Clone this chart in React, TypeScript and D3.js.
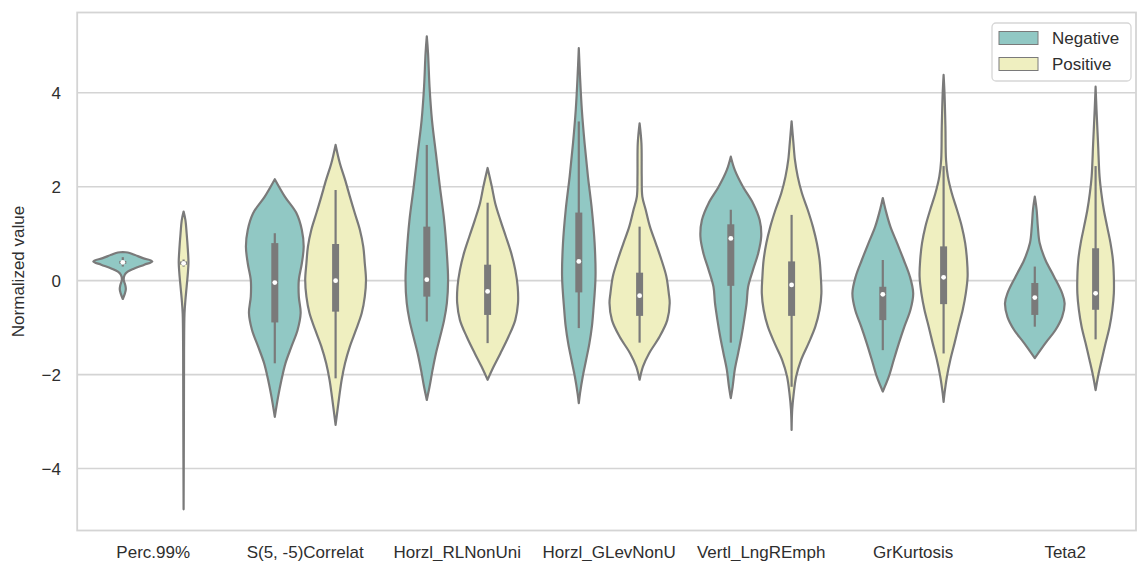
import React from "react";
import * as d3 from "d3";

// categories on the x axis and the two hue groups
const categories = [
  "Perc.99%",
  "S(5, -5)Correlat",
  "Horzl_RLNonUni",
  "Horzl_GLevNonU",
  "Vertl_LngREmph",
  "GrKurtosis",
  "Teta2",
];
const hues = ["Negative", "Positive"];
const yTicks = [-4, -2, 0, 2, 4];

// violin outlines: [value, relative half width]
const negativeProfiles = [
  [[0.61, 0], [0.6, 0.16], [0.55, 0.38], [0.48, 0.66], [0.41, 0.97], [0.34, 0.71], [0.26, 0.38], [0.19, 0.16], [0.12, 0.06], [0.02, 0.03], [-0.09, 0.08], [-0.18, 0.1], [-0.27, 0.07], [-0.39, 0]],
  [[2.16, 0], [1.79, 0.33], [1.44, 0.71], [1.08, 0.89], [0.725, 0.95], [0.37, 0.89], [0.016, 0.79], [-0.34, 0.79], [-0.69, 0.85], [-1.05, 0.75], [-1.4, 0.55], [-1.76, 0.35], [-2.11, 0.22], [-2.47, 0.11], [-2.9, 0]],
  [[5.2, 0], [4.85, 0.04], [4.13, 0.09], [3.42, 0.17], [2.71, 0.3], [2.0, 0.43], [1.29, 0.57], [0.58, 0.66], [0.016, 0.7], [-0.48, 0.66], [-0.84, 0.57], [-1.19, 0.44], [-1.55, 0.3], [-1.9, 0.19], [-2.26, 0.09], [-2.54, 0]],
  [[4.95, 0], [4.35, 0.04], [3.64, 0.1], [2.93, 0.19], [2.22, 0.3], [1.51, 0.43], [0.8, 0.52], [0.09, 0.55], [-0.62, 0.48], [-0.98, 0.43], [-1.33, 0.35], [-1.69, 0.24], [-2.04, 0.13], [-2.4, 0.04], [-2.61, 0]],
  [[2.64, 0], [2.36, 0.13], [2.0, 0.4], [1.65, 0.73], [1.29, 0.95], [0.94, 1.0], [0.58, 0.9], [0.23, 0.73], [-0.13, 0.57], [-0.48, 0.52], [-0.84, 0.44], [-1.19, 0.35], [-1.55, 0.24], [-1.9, 0.13], [-2.26, 0.06], [-2.5, 0]],
  [[1.76, 0], [1.51, 0.09], [1.15, 0.25], [0.8, 0.47], [0.44, 0.69], [0.09, 0.89], [-0.27, 1.0], [-0.62, 0.91], [-0.98, 0.71], [-1.33, 0.53], [-1.69, 0.36], [-2.04, 0.2], [-2.36, 0]],
  [[1.79, 0], [1.51, 0.06], [1.15, 0.1], [0.8, 0.16], [0.44, 0.35], [0.09, 0.63], [-0.27, 0.9], [-0.48, 0.98], [-0.77, 0.9], [-1.05, 0.68], [-1.33, 0.35], [-1.65, 0]],
];

const positiveProfiles = [
  [[1.47, 0], [1.29, 0.06], [1.01, 0.1], [0.66, 0.14], [0.39, 0.16], [0.16, 0.14], [-0.13, 0.1], [-0.41, 0.06], [-0.7, 0.03], [-1.5, 0.015], [-3.0, 0.01], [-4.87, 0]],
  [[2.89, 0], [2.5, 0.14], [2.15, 0.31], [1.79, 0.47], [1.44, 0.63], [1.08, 0.8], [0.725, 0.91], [0.37, 0.96], [0.016, 1.0], [-0.34, 0.96], [-0.69, 0.86], [-1.05, 0.67], [-1.4, 0.47], [-1.76, 0.31], [-2.11, 0.2], [-2.47, 0.12], [-3.07, 0]],
  [[2.4, 0], [2.0, 0.14], [1.65, 0.25], [1.29, 0.42], [0.94, 0.6], [0.58, 0.78], [0.23, 0.91], [-0.13, 0.99], [-0.48, 1.0], [-0.84, 0.91], [-1.19, 0.69], [-1.55, 0.42], [-1.83, 0.2], [-2.11, 0]],
  [[3.35, 0], [2.93, 0.06], [2.22, 0.07], [1.79, 0.09], [1.51, 0.2], [1.15, 0.34], [0.8, 0.53], [0.44, 0.72], [0.09, 0.88], [-0.27, 0.96], [-0.48, 0.99], [-0.84, 0.91], [-1.19, 0.66], [-1.55, 0.31], [-1.83, 0.11], [-2.11, 0]],
  [[3.39, 0], [2.93, 0.06], [2.57, 0.11], [2.22, 0.2], [1.86, 0.34], [1.51, 0.53], [1.15, 0.7], [0.8, 0.83], [0.44, 0.92], [0.09, 0.96], [-0.27, 0.98], [-0.62, 0.92], [-0.98, 0.78], [-1.33, 0.56], [-1.69, 0.31], [-2.04, 0.15], [-2.4, 0.07], [-2.75, 0.02], [-3.18, 0]],
  [[4.38, 0], [3.99, 0.03], [3.28, 0.06], [2.57, 0.08], [2.22, 0.14], [1.86, 0.27], [1.51, 0.44], [1.15, 0.6], [0.8, 0.71], [0.44, 0.77], [0.09, 0.79], [-0.27, 0.73], [-0.62, 0.63], [-0.98, 0.49], [-1.33, 0.36], [-1.69, 0.22], [-2.04, 0.11], [-2.4, 0.03], [-2.58, 0]],
  [[4.13, 0], [3.64, 0.03], [2.93, 0.08], [2.22, 0.13], [1.86, 0.19], [1.51, 0.27], [1.15, 0.38], [0.8, 0.49], [0.44, 0.57], [0.09, 0.6], [-0.27, 0.6], [-0.62, 0.55], [-0.98, 0.46], [-1.33, 0.33], [-1.69, 0.2], [-2.04, 0.08], [-2.33, 0]],
];

// inner box: [whisker low, q1, median, q3, whisker high]
const negativeBoxes = [
  [0.3, 0.36, 0.39, 0.42, 0.5],
  [-1.76, -0.89, -0.04, 0.8, 1.01],
  [-0.87, -0.34, 0.02, 1.15, 2.89],
  [-1.01, -0.25, 0.41, 1.45, 3.39],
  [-1.32, -0.11, 0.9, 1.2, 1.51],
  [-1.48, -0.84, -0.29, -0.13, 0.44],
  [-0.98, -0.73, -0.36, -0.05, 0.3],
];
const positiveBoxes = [
  [0.3, 0.34, 0.37, 0.41, 0.45],
  [-2.08, -0.66, 0.0, 0.78, 1.93],
  [-1.33, -0.73, -0.23, 0.34, 1.66],
  [-1.32, -0.75, -0.32, 0.17, 1.15],
  [-2.26, -0.75, -0.09, 0.41, 1.4],
  [-1.55, -0.5, 0.07, 0.73, 2.44],
  [-1.25, -0.62, -0.27, 0.69, 2.44],
];

const colors = ["#91c8c4", "#efefc0"];
const lineGray = "#7a7a7a";
const gridGray = "#d4d4d4";
const font = "'Liberation Sans', Arial, sans-serif";

const App = () => {
  const width = 1138;
  const height = 561;
  const top = 12.5;
  const bottom = 530.5;
  const left = 77.2;
  const frameRight = 1136;

  const x = d3.scaleBand().domain(categories).range([left, 1141.2]);
  const hueX = d3
    .scaleBand()
    .domain(hues)
    .range([x.bandwidth() * 0.1, x.bandwidth() * 0.9]);
  const y = d3.scaleLinear().domain([-5.32, 5.71]).range([bottom, top]);
  const w = d3.scaleLinear().domain([0, 1]).range([0, hueX.bandwidth() / 2]);

  const profiles = [negativeProfiles, positiveProfiles];
  const boxes = [negativeBoxes, positiveBoxes];

  const renderViolin = (cat, ci, hi) => {
    const cx = x(cat) + hueX(hues[hi]) + hueX.bandwidth() / 2;
    const area = d3
      .area()
      .y((d) => y(d[0]))
      .x0((d) => cx - w(d[1]))
      .x1((d) => cx + w(d[1]))
      .curve(d3.curveCatmullRom.alpha(0.5));
    const [lo, q1, med, q3, hi2] = boxes[hi][ci];
    return (
      <g key={`${cat}-${hi}`}>
        <path
          d={area(profiles[hi][ci])}
          fill={colors[hi]}
          stroke={lineGray}
          strokeWidth={2.2}
          strokeLinejoin="round"
        />
        <line x1={cx} x2={cx} y1={y(hi2)} y2={y(lo)} stroke={lineGray} strokeWidth={2.2} />
        <line x1={cx} x2={cx} y1={y(q3)} y2={y(q1)} stroke={lineGray} strokeWidth={7} />
        <circle cx={cx} cy={y(med)} r={2.4} fill="white" />
      </g>
    );
  };

  return (
    <svg
      width={width}
      height={height}
      style={{ position: "absolute", left: 0, top: 0, background: "white" }}
      fontFamily={font}
    >
      {yTicks.map((t) => (
        <g key={t}>
          <line x1={left} x2={frameRight} y1={y(t)} y2={y(t)} stroke={gridGray} strokeWidth={1.6} />
          <text x={61} y={y(t) + 6} textAnchor="end" fontSize={17} fill="#2e2e2e">
            {t < 0 ? `\u2212${Math.abs(t)}` : t}
          </text>
        </g>
      ))}

      {categories.map((cat, ci) => (
        <g key={cat}>
          {hues.map((h, hi) => renderViolin(cat, ci, hi))}
          <text
            x={x(cat) + x.bandwidth() / 2}
            y={558}
            textAnchor="middle"
            fontSize={17}
            fill="#2e2e2e"
          >
            {cat}
          </text>
        </g>
      ))}

      <rect
        x={left}
        y={top}
        width={frameRight - left}
        height={bottom - top}
        fill="none"
        stroke={gridGray}
        strokeWidth={1.8}
      />

      <text
        transform={`translate(18,${(top + bottom) / 2}) rotate(-90)`}
        textAnchor="middle"
        dominantBaseline="central"
        fontSize={17}
        fill="#2e2e2e"
      >
        Normalized value
      </text>

      <g>
        <rect x={992} y={23} width={139} height={58} rx={4} fill="white" fillOpacity={0.85} stroke="#d6d6d6" strokeWidth={1.3} />
        {hues.map((h, hi) => (
          <g key={h} transform={`translate(0,${hi * 26})`}>
            <rect x={999} y={31.5} width={39} height={13} fill={colors[hi]} stroke={lineGray} strokeWidth={1} />
            <text x={1052} y={44} fontSize={17} fill="#2e2e2e">
              {h}
            </text>
          </g>
        ))}
      </g>
    </svg>
  );
};

export default App;
